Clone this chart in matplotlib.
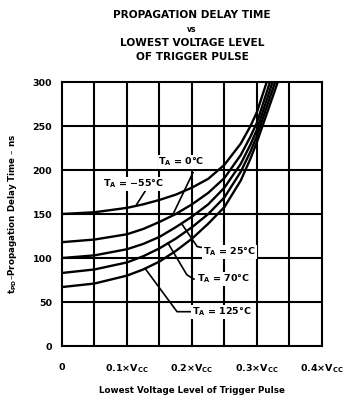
import matplotlib
matplotlib.use('Agg')
import matplotlib.pyplot as plt

# curves (x in fractions of Vcc, delay in ns)
x_m55 = [0, 0.05, 0.10, 0.125, 0.15, 0.175, 0.20, 0.225, 0.25, 0.275, 0.29, 0.30, 0.315]
t_m55 = [150, 152, 157, 161, 166, 172, 180, 190, 206, 230, 250, 266, 300]

x_0 = [0, 0.05, 0.10, 0.125, 0.15, 0.175, 0.20, 0.225, 0.25, 0.275, 0.29, 0.30, 0.32]
t_0 = [118, 121, 127, 133, 141, 150, 161, 174, 191, 217, 238, 254, 300]

x_25 = [0, 0.05, 0.10, 0.125, 0.15, 0.175, 0.20, 0.225, 0.25, 0.275, 0.29, 0.30, 0.324]
t_25 = [100, 103, 110, 116, 124, 135, 147, 161, 180, 207, 229, 246, 300]

x_70 = [0, 0.05, 0.10, 0.125, 0.15, 0.175, 0.20, 0.225, 0.25, 0.275, 0.29, 0.30, 0.328]
t_70 = [83, 87, 95, 102, 111, 122, 135, 150, 169, 198, 221, 239, 300]

x_125 = [0, 0.05, 0.10, 0.125, 0.15, 0.175, 0.20, 0.225, 0.25, 0.275, 0.29, 0.30, 0.332]
t_125 = [67, 71, 80, 87, 96, 108, 122, 139, 158, 188, 213, 232, 300]

xtick_vals = [0, 0.1, 0.2, 0.3, 0.4]
xtick_labels = ['0', r'0.1×V$_\mathregular{CC}$', r'0.2×V$_\mathregular{CC}$',
                r'0.3×V$_\mathregular{CC}$', r'0.4×V$_\mathregular{CC}$']
ytick_vals = [0, 50, 100, 150, 200, 250, 300]

# label text, text position, leader line
labels = [
    (r'T$_\mathregular{A}$ = −55°C', (0.063, 184), [(0.128, 176), (0.115, 161)]),
    (r'T$_\mathregular{A}$ = 0°C', (0.148, 209), [(0.2015, 197), (0.171, 150)]),
    (r'T$_\mathregular{A}$ = 25°C', (0.217, 107), [(0.185, 138), (0.208, 113), (0.215, 112)]),
    (r'T$_\mathregular{A}$ = 70°C', (0.208, 76), [(0.163, 117), (0.192, 81), (0.203, 76)]),
    (r'T$_\mathregular{A}$ = 125°C', (0.200, 39), [(0.128, 88), (0.177, 39), (0.197, 39)]),
]

plt.rcParams['font.family'] = 'DejaVu Sans'
plt.rcParams['font.weight'] = 'bold'

fig = plt.figure(figsize=(3.55, 4.03), dpi=100)
ax = fig.add_axes([0.1746, 0.1414, 0.7324, 0.6551])

lw = 1.5
# grid
for gx in [0.05 * i for i in range(1, 8)]:
    ax.axvline(gx, color='k', linewidth=lw, zorder=1)
for gy in ytick_vals[1:-1]:
    ax.axhline(gy, color='k', linewidth=lw, zorder=1)

for xs, ts in [(x_m55, t_m55), (x_0, t_0), (x_25, t_25), (x_70, t_70), (x_125, t_125)]:
    ax.plot(xs, ts, color='k', linewidth=1.7, zorder=2, solid_joinstyle='round')

for text, pos, leader in labels:
    lx = [p[0] for p in leader]
    ly = [p[1] for p in leader]
    ax.plot(lx, ly, color='k', linewidth=1.2, zorder=3)
    ax.text(pos[0], pos[1], text, ha='left', va='center', fontsize=6.8,
            fontweight='bold', zorder=4,
            bbox=dict(facecolor='white', edgecolor='none', pad=0.5))

ax.set_xlim(0, 0.4)
ax.set_ylim(0, 300)
for s in ax.spines.values():
    s.set_linewidth(lw)
ax.set_xticks(xtick_vals)
ax.set_xticklabels(xtick_labels, fontsize=6.8, fontweight='bold')
ax.set_yticks(ytick_vals)
ax.set_yticklabels([str(v) for v in ytick_vals], fontsize=6.8, fontweight='bold')
ax.tick_params(length=0, pad=7)
ax.tick_params(axis='x', pad=12)

ax.set_xlabel('Lowest Voltage Level of Trigger Pulse', fontsize=6.3, fontweight='bold', labelpad=8)
ax.set_ylabel(r't$_\mathregular{PD}$–Propagation Delay Time – ns', fontsize=6.3, fontweight='bold', labelpad=10)

title_lines = ['PROPAGATION DELAY TIME', 'vs', 'LOWEST VOLTAGE LEVEL', 'OF TRIGGER PULSE']
title_y = [15, 29, 43, 57]
for t, yp in zip(title_lines, title_y):
    fig.text(192 / 355, 1 - yp / 403, t, ha='center', va='center',
             fontsize=7.6 if t != 'vs' else 5.5, fontweight='bold')

fig.savefig('out.png', dpi=100)
